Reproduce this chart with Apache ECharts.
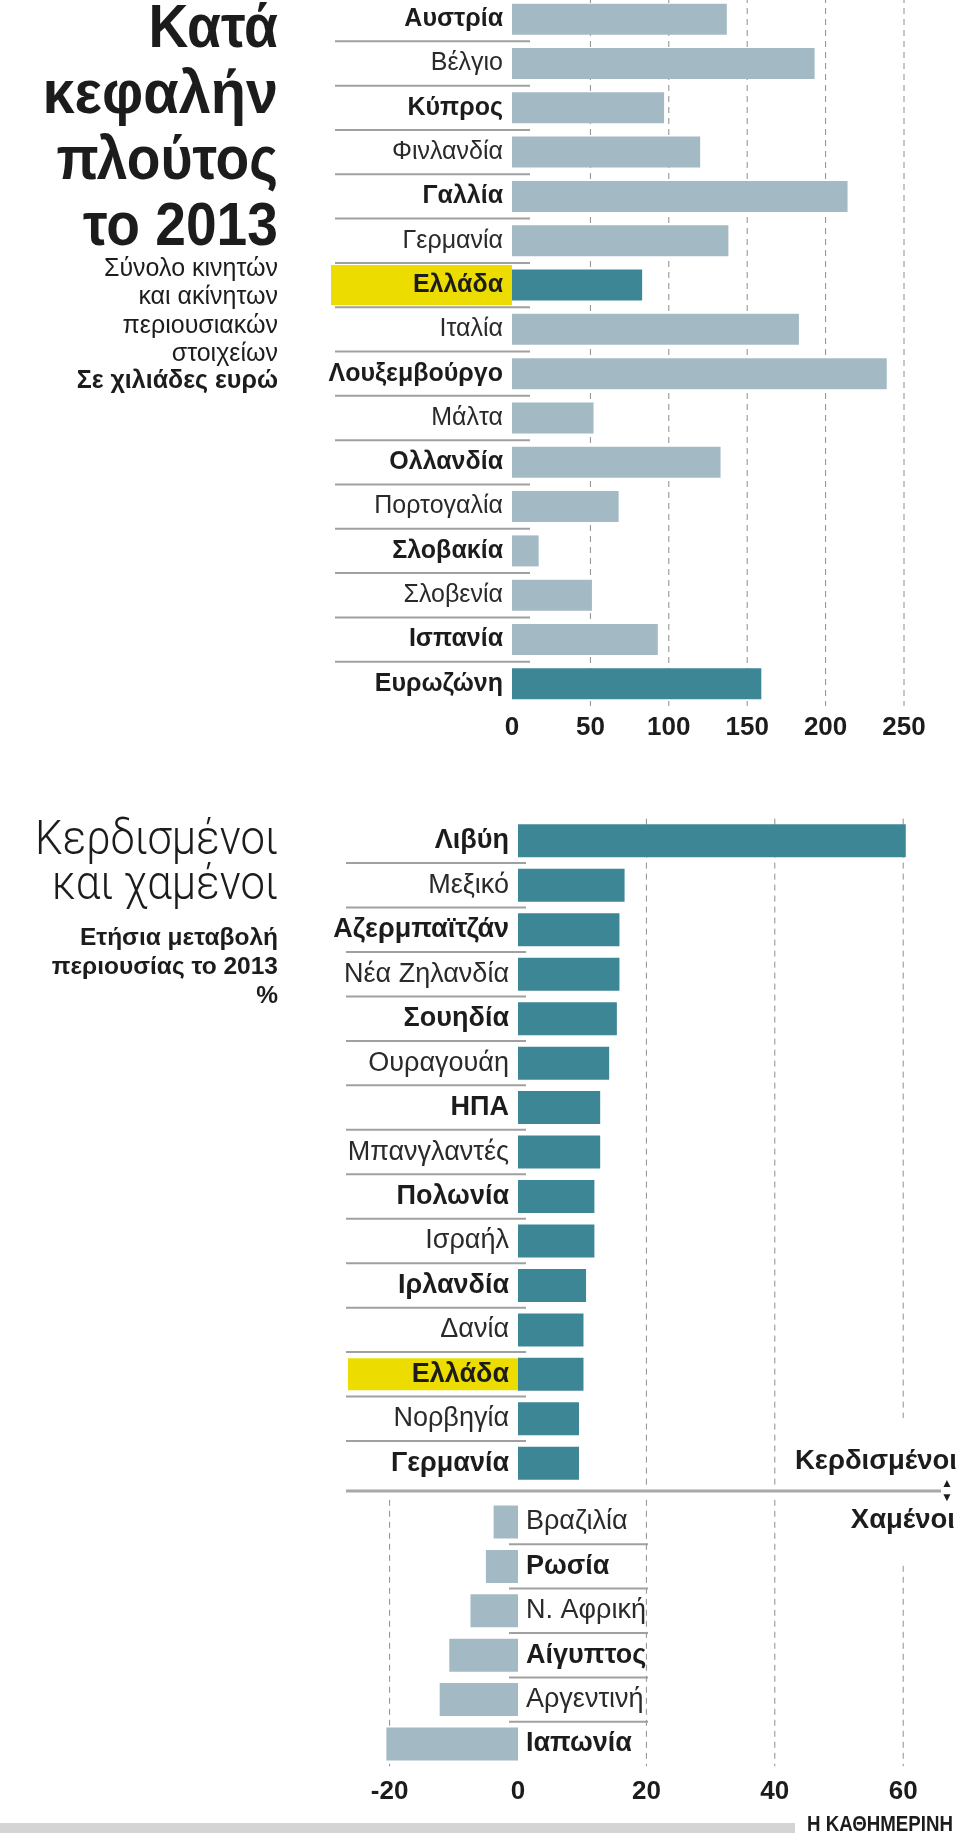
<!DOCTYPE html>
<html>
<head>
<meta charset="utf-8">
<title>Κατά κεφαλήν πλούτος το 2013</title>
<script src="https://cdn.jsdelivr.net/npm/echarts@6/dist/echarts.min.js"></script>
<style>
  html, body { margin: 0; padding: 0; background: #fff; }
  #chart { width: 960px; height: 1833px; }
</style>
</head>
<body>
<div id="chart"></div>
<script>
// Κατά κεφαλήν πλούτος, χιλιάδες ευρώ
var wealthCountries = ['Αυστρία', 'Βέλγιο', 'Κύπρος', 'Φινλανδία', 'Γαλλία', 'Γερμανία', 'Ελλάδα', 'Ιταλία',
  'Λουξεμβούργο', 'Μάλτα', 'Ολλανδία', 'Πορτογαλία', 'Σλοβακία', 'Σλοβενία', 'Ισπανία', 'Ευρωζώνη'];
var wealthValues = [137, 193, 97, 120, 214, 138, 83, 183, 239, 52, 133, 68, 17, 51, 93, 159];
var wealthTicks = [0, 50, 100, 150, 200, 250];

// Ετήσια μεταβολή περιουσίας το 2013, %
var gainers = ['Λιβύη', 'Μεξικό', 'Αζερμπαϊτζάν', 'Νέα Ζηλανδία', 'Σουηδία', 'Ουραγουάη', 'ΗΠΑ', 'Μπανγλαντές',
  'Πολωνία', 'Ισραήλ', 'Ιρλανδία', 'Δανία', 'Ελλάδα', 'Νορβηγία', 'Γερμανία'];
var gainersValues = [60.4, 16.6, 15.8, 15.8, 15.4, 14.2, 12.8, 12.8, 11.9, 11.9, 10.6, 10.2, 10.2, 9.5, 9.5];
var losers = ['Βραζιλία', 'Ρωσία', 'Ν. Αφρική', 'Αίγυπτος', 'Αργεντινή', 'Ιαπωνία'];
var losersValues = [-3.8, -5.0, -7.4, -10.7, -12.2, -20.5];
var changeTicks = [-20, 0, 20, 40, 60];

var HIGHLIGHT = 'Ελλάδα';
var TOTAL = 'Ευρωζώνη';

var LIGHT = '#a3bac5';
var DARK = '#3d8696';
var YELLOW = '#ecdc00';
var INK = '#1c1c1c';
var FONT = "'Liberation Sans', Arial, sans-serif";
var LIGHTFONT = "Roboto, 'Liberation Sans', sans-serif";

var chart = echarts.init(document.getElementById('chart'));

// lower chart: zero sits at 518px, 6.42px per percentage point
var zeroX = 518;
var pxPerUnit = 6.42;
var chMin = changeTicks[0];
var chMax = changeTicks[changeTicks.length - 1];
var chStep = changeTicks[1] - changeTicks[0];

function rich(size, hlWidth, hlHeight, pad) {
  return {
    b: { fontFamily: FONT, fontSize: size, fontWeight: 'bold', color: INK, padding: pad },
    n: { fontFamily: FONT, fontSize: size, color: '#2a2a2a', padding: pad },
    hl: {
      fontFamily: FONT, fontSize: size, fontWeight: 'bold', color: INK, padding: pad,
      backgroundColor: YELLOW, width: hlWidth, height: hlHeight, lineHeight: hlHeight, align: 'right'
    }
  };
}

function labelFor(boldOdd) {
  return function (name, i) {
    if (name === HIGHLIGHT) return '{hl|' + name + '}';
    var bold = (i % 2 === (boldOdd ? 1 : 0)) || name === TOTAL;
    return (bold ? '{b|' : '{n|') + name + '}';
  };
}

// rules between rows, reaching from the label area into the plot
function separators(idx, names, outLeft, outRight) {
  return {
    type: 'custom', xAxisIndex: idx, yAxisIndex: idx, z: 3, silent: true,
    data: names.slice(1).map(function (n) { return [0, n]; }),
    renderItem: function (params, api) {
      var p = api.coord([0, api.value(1)]);
      var y = p[1] - api.size([0, 1])[1] / 2;
      return {
        type: 'line',
        shape: { x1: p[0] - outLeft, y1: y, x2: p[0] + outRight, y2: y },
        style: { stroke: '#a0a0a0', lineWidth: 2 }
      };
    }
  };
}

// dashed vertical grid lines, under the bars
function gridLines(idx, values, firstCat) {
  return {
    type: 'custom', xAxisIndex: idx, yAxisIndex: idx, z: 1, silent: true,
    data: values.filter(function (v) { return v !== 0; }).map(function (v) { return [v, firstCat]; }),
    renderItem: function (params, api) {
      var x = api.coord([api.value(0), api.value(1)])[0];
      var cs = params.coordSys;
      return {
        type: 'line',
        shape: { x1: x, y1: cs.y, x2: x, y2: cs.y + cs.height },
        style: { stroke: '#8e8e8e', lineWidth: 1, lineDash: [6, 5] }
      };
    }
  };
}

function colored(values, names, colorFn) {
  return values.map(function (v, i) {
    return { value: v, itemStyle: { color: colorFn(names[i]) } };
  });
}

function txt(text, x, y, size, weight, family, align, sx) {
  return {
    type: 'text', z: 20, x: x, y: y, scaleX: sx || 1,
    style: {
      text: text, x: 0, y: 0, fill: INK,
      fontSize: size, fontWeight: weight, fontFamily: family,
      align: align || 'right', textAlign: align || 'right',
      verticalAlign: 'middle', textVerticalAlign: 'middle'
    }
  };
}

var option = {
  animation: false,
  grid: [
    { left: 512, width: 392, top: -3, height: 709, outerBoundsMode: 'none' },
    // gainers: positive side only, left edge at zero
    { left: zeroX, width: chMax * pxPerUnit, top: 818.6, height: 666.9, outerBoundsMode: 'none' },
    // losers: full range, carries the value labels
    { left: zeroX + chMin * pxPerUnit, width: (chMax - chMin) * pxPerUnit, top: 1499.8, height: 266.4, outerBoundsMode: 'none' }
  ],
  xAxis: [
    {
      gridIndex: 0, type: 'value',
      min: wealthTicks[0], max: wealthTicks[wealthTicks.length - 1], interval: wealthTicks[1] - wealthTicks[0],
      axisLine: { show: false }, axisTick: { show: false }, splitLine: { show: false },
      axisLabel: { margin: 9, fontSize: 26, fontWeight: 'bold', color: INK, fontFamily: FONT }
    },
    {
      gridIndex: 1, type: 'value', show: false,
      min: 0, max: chMax, interval: chStep,
      splitLine: { show: false }
    },
    {
      gridIndex: 2, type: 'value',
      min: chMin, max: chMax, interval: chStep,
      axisLine: { show: false }, axisTick: { show: false }, splitLine: { show: false },
      axisLabel: { margin: 13, fontSize: 26, fontWeight: 'bold', color: INK, fontFamily: FONT }
    }
  ],
  yAxis: [
    {
      gridIndex: 0, type: 'category', data: wealthCountries, inverse: true,
      axisLine: { show: false, onZero: false }, axisTick: { show: false },
      axisLabel: { interval: 0, margin: 0, formatter: labelFor(false), rich: rich(25, 172, 40, [0, 9, 0, 0]) }
    },
    {
      gridIndex: 1, type: 'category', data: gainers, inverse: true,
      axisLine: { show: false, onZero: false }, axisTick: { show: false },
      axisLabel: { interval: 0, margin: 0, formatter: labelFor(false), rich: rich(27, 161, 32, [0, 9, 0, 0]) }
    },
    {
      // moved from the right edge back onto the zero line, labels to its right
      gridIndex: 2, type: 'category', data: losers, inverse: true, position: 'right',
      offset: -chMax * pxPerUnit,
      axisLine: { show: false, onZero: false }, axisTick: { show: false },
      axisLabel: { interval: 0, margin: 8, formatter: labelFor(true), rich: rich(27, 100, 32, [0, 0, 0, 0]) }
    }
  ],
  series: [
    gridLines(0, wealthTicks, wealthCountries[0]),
    {
      type: 'bar', xAxisIndex: 0, yAxisIndex: 0, barWidth: 31, z: 2, silent: true,
      data: colored(wealthValues, wealthCountries, function (c) {
        return (c === HIGHLIGHT || c === TOTAL) ? DARK : LIGHT;
      })
    },
    separators(0, wealthCountries, 177, 18),

    gridLines(1, changeTicks.filter(function (v) { return v > 0; }), gainers[0]),
    {
      type: 'bar', xAxisIndex: 1, yAxisIndex: 1, barWidth: 33, z: 2, silent: true, clip: false,
      data: colored(gainersValues, gainers, function () { return DARK; })
    },
    separators(1, gainers, 172, 8),

    gridLines(2, changeTicks, losers[0]),
    {
      type: 'bar', xAxisIndex: 2, yAxisIndex: 2, barWidth: 33, z: 2, silent: true, clip: false,
      data: colored(losersValues, losers, function () { return LIGHT; })
    },
    separators(2, losers, 9, 130)
  ],
  graphic: [
    // upper title block
    txt('Κατά', 278, 29.5, 62, 'bold', FONT, 'right', 0.89),
    txt('κεφαλήν', 278, 95.5, 62, 'bold', FONT, 'right', 0.93),
    txt('πλούτος', 278, 161.5, 62, 'bold', FONT, 'right', 0.89),
    txt('το 2013', 278, 227.5, 62, 'bold', FONT, 'right', 0.89),
    txt('Σύνολο κινητών', 278, 269, 25, 'normal', FONT),
    txt('και ακίνητων', 278, 297, 25, 'normal', FONT),
    txt('περιουσιακών', 278, 326, 25, 'normal', FONT),
    txt('στοιχείων', 278, 354, 25, 'normal', FONT),
    txt('Σε χιλιάδες ευρώ', 278, 381, 25, 'bold', FONT),

    // lower title block
    txt('Κερδισμένοι', 278, 842, 49, 300, LIGHTFONT, 'right', 0.89),
    txt('και χαμένοι', 278, 887, 49, 300, LIGHTFONT, 'right', 0.89),
    txt('Ετήσια μεταβολή', 278, 938, 24.5, 'bold', FONT),
    txt('περιουσίας το 2013', 278, 967, 24.5, 'bold', FONT),
    txt('%', 278, 996, 24.5, 'bold', FONT),

    // gainers / losers divider
    { type: 'rect', z: 10, shape: { x: 780, y: 1418, width: 180, height: 143 }, style: { fill: '#fff' } },
    { type: 'line', z: 11, shape: { x1: 346, y1: 1491, x2: 941, y2: 1491 }, style: { stroke: '#a8a8a8', lineWidth: 3 } },
    txt('Κερδισμένοι', 957, 1461, 27.5, 'bold', FONT),
    txt('▲', 947, 1484, 12, 'normal', FONT, 'center'),
    txt('▼', 947, 1498, 12, 'normal', FONT, 'center'),
    txt('Χαμένοι', 955, 1520, 27.5, 'bold', FONT),

    // footer
    { type: 'rect', z: 10, shape: { x: 0, y: 1823, width: 795, height: 10 }, style: { fill: '#d4d4d4' } },
    txt('Η ΚΑΘΗΜΕΡΙΝΗ', 807, 1825, 22, 'bold', FONT, 'left', 0.85)
  ]
};

chart.setOption(option);
window.addEventListener('resize', function () { chart.resize(); });
</script>
</body>
</html>
